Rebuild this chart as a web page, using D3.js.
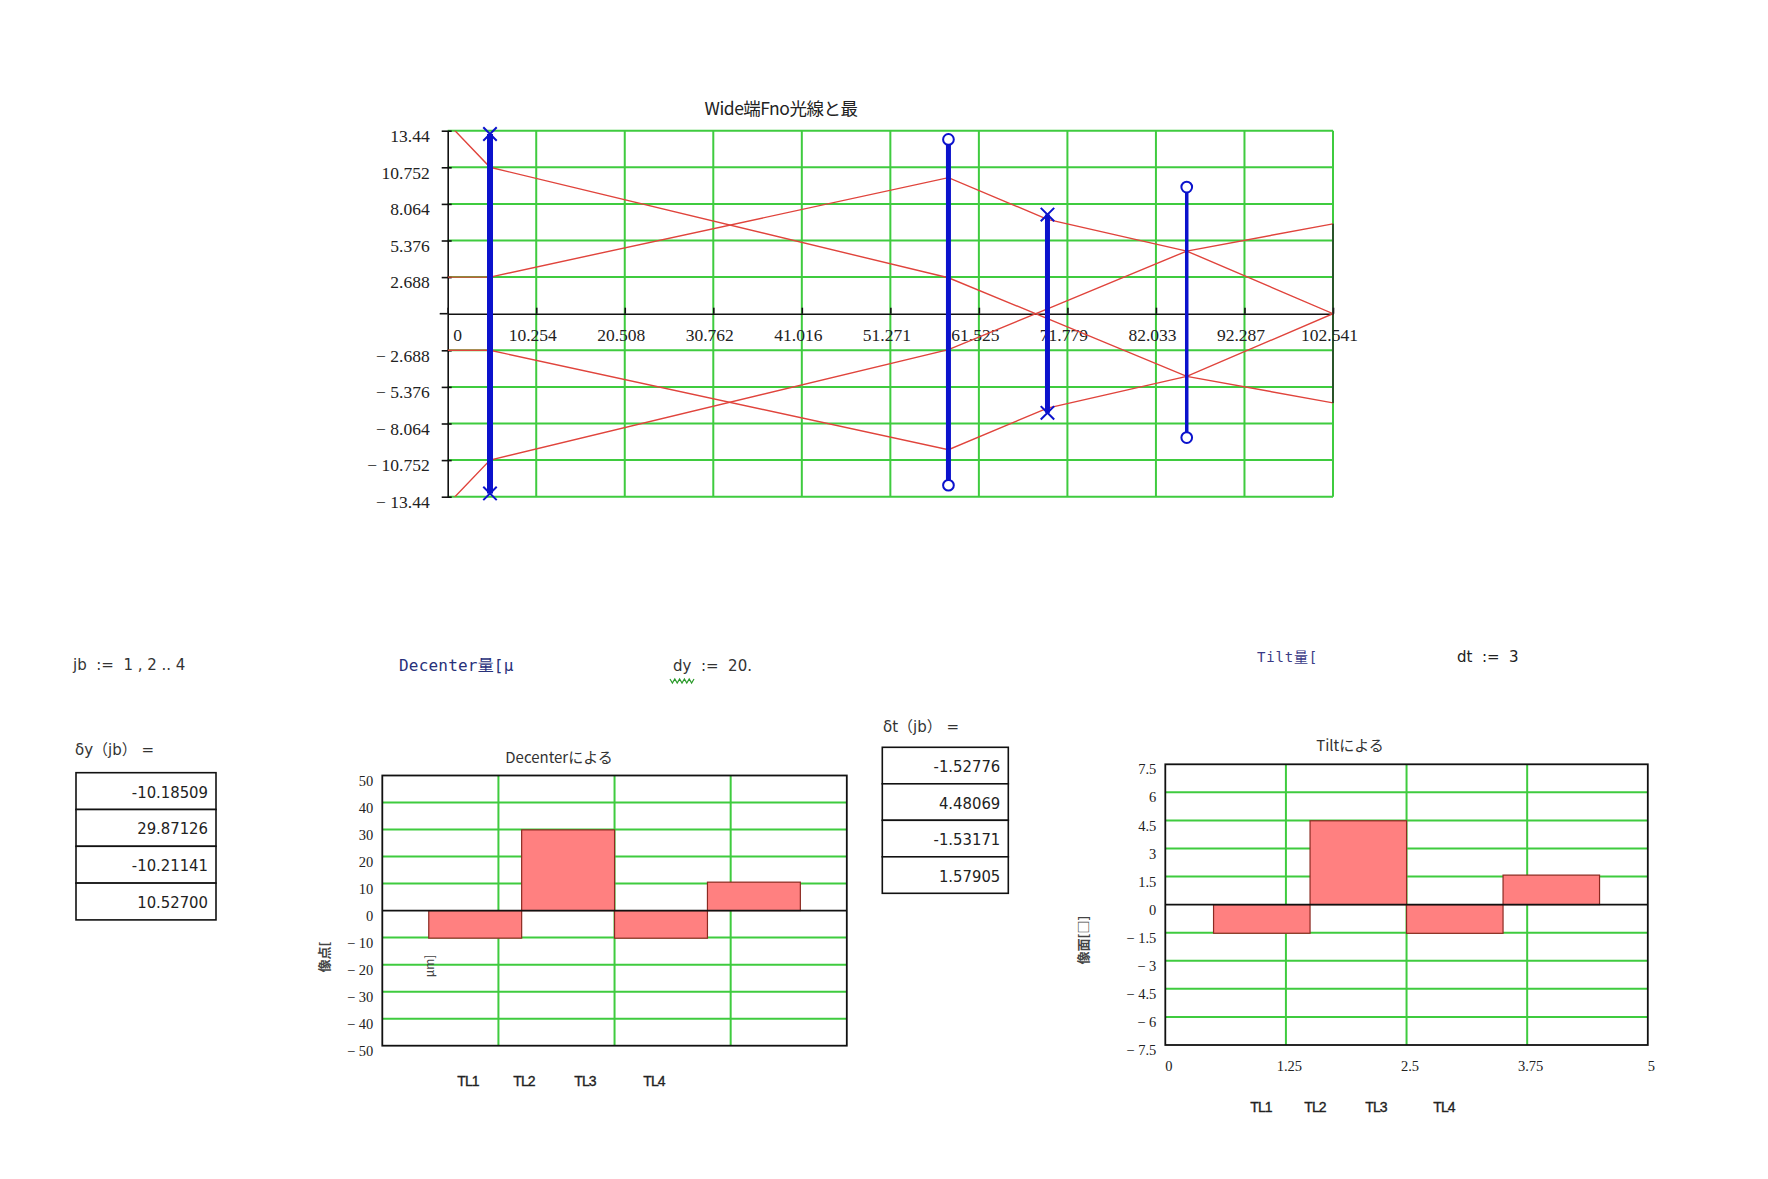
<!DOCTYPE html>
<html lang="ja">
<head>
<meta charset="UTF-8">
<title>Wide端Fno光線と最</title>
<script src="https://cdn.jsdelivr.net/npm/d3@7"></script>
<style>
    body{ margin:0; background:#fff; }
    .serif{ font-family:"Liberation Serif","DejaVu Serif",serif; }
    .sans{ font-family:"DejaVu Sans","Noto Sans CJK JP",sans-serif; }
    .arial{ font-family:"Liberation Sans","DejaVu Sans",sans-serif; }
    .mono{ font-family:"DejaVu Sans Mono","Noto Sans CJK JP",monospace; }
    .cond{ font-family:"DejaVu Sans Condensed","DejaVu Sans",sans-serif; font-stretch:condensed; }
    .cjk{ font-family:"Noto Sans CJK JP","DejaVu Sans",sans-serif; }
</style>
</head>
<body>
<svg id="sheet" width="1768" height="1179"></svg>

<script>
    // ---------- data read off the worksheet ----------
    // ray trace (top plot): z of every surface, ray heights at those z
    let zPos = [0, 4.9, 58, 69.47, 85.6, 102.541]
    let rayA = [14.0, 10.752, 2.64, -0.36, -4.6, -6.55]
    let rayB = [2.688, 2.688, 9.99, 6.93, 4.6, 0]
    let rayA2 = [-14.0, -10.752, -2.64, 0.36, 4.6, 6.6]
    let rayB2 = [-2.688, -2.688, -9.99, -6.93, -4.6, 0]
    // lens groups
    let lensZ = [4.9, 58, 69.47, 85.6]
    let lensTop = [13.2, 12.8, 7.28, 9.3]
    let lensBottom = [-13.2, -12.6, -7.28, -9.1]
    let lensMark = ["x", "o", "x", "o"]
    // ticks of the top plot
    let zTicks = [0, 10.2541, 20.5082, 30.7623, 41.0164, 51.2705, 61.5246, 71.7787, 82.0328, 92.2869, 102.541]
    let zTickLabels = ["0", "10.254", "20.508", "30.762", "41.016", "51.271", "61.525", "71.779", "82.033", "92.287", "102.541"]
    let hTicks = [13.44, 10.752, 8.064, 5.376, 2.688, -2.688, -5.376, -8.064, -10.752, -13.44]
    let hTickLabels = ["13.44", "10.752", "8.064", "5.376", "2.688", "−  2.688", "−  5.376", "−  8.064", "−  10.752", "−  13.44"]

    // decenter / tilt (bottom)
    let jb = [1, 2, 3, 4]
    let units = ["TL1", "TL2", "TL3", "TL4"]
    let deltaY = [-10.18509, 29.87126, -10.21141, 10.52700]
    let deltaT = [-1.52776, 4.48069, -1.53171, 1.57905]
    let dyTicks = [50, 40, 30, 20, 10, 0, -10, -20, -30, -40, -50]
    let dtTicks = [7.5, 6, 4.5, 3, 1.5, 0, -1.5, -3, -4.5, -6, -7.5]
    let barXTicks = [0, 1.25, 2.5, 3.75, 5]

    // ---------- styles / layout ----------
    let green = "#3fcb3f"
    let rayRed = "#e0443c"
    let blue = "#0b12cc"
    let barFill = "#ff8080"
    let barEdge = "#8c2a22"
    let lensStroke = [6, 5, 5, 3.5]
    let tlXDec = [468, 524, 585, 654]
    let tlXTilt = [1261, 1315, 1376, 1444]

    let svg = d3.select("#sheet")

    function minusFmt(v){
        return v < 0 ? "−  " + Math.abs(v) : String(v)
    }

    // ================= top plot: rays =================
    let x1 = d3.scaleLinear().domain([0, 102.541]).range([447.7, 1333])
    let y1 = d3.scaleLinear().domain([-13.44, 13.44]).range([496.7, 130.7])
    let topG = svg.append("g")

    topG.append("text")
        .attr("class", "cjk")
        .attr("x", 781).attr("y", 107)
        .attr("text-anchor", "middle").attr("dominant-baseline", "central")
        .attr("font-size", 17.5).attr("fill", "#222").attr("letter-spacing", -0.5)
        .text("Wide端Fno光線と最")

    // grid
    topG.selectAll(".hg").data(hTicks).join("line")
        .attr("x1", x1(0)).attr("x2", x1(102.541))
        .attr("y1", d => y1(d)).attr("y2", d => y1(d))
        .attr("stroke", green).attr("stroke-width", 2)
    topG.selectAll(".vg").data(zTicks.slice(1)).join("line")
        .attr("x1", d => x1(d)).attr("x2", d => x1(d))
        .attr("y1", y1(13.44)).attr("y2", y1(-13.44))
        .attr("stroke", green).attr("stroke-width", 2)

    // x axis along y = 0, ticks pointing up
    let gx = topG.append("g")
        .attr("transform", `translate(0,${y1(0)})`)
        .call(d3.axisBottom(x1).tickValues(zTicks).tickFormat((d, i) => zTickLabels[i])
            .tickSizeInner(-6).tickSizeOuter(0).tickPadding(15))
    gx.attr("font-family", "'Liberation Serif','DejaVu Serif',serif").attr("font-size", 17.5)
    gx.select(".domain").attr("stroke", "#111").attr("stroke-width", 1.6)
    gx.selectAll(".tick line").attr("stroke", "#111").attr("stroke-width", 1.6)
    gx.selectAll(".tick text").attr("fill", "#222").attr("dx", -4)
    gx.selectAll(".tick text").filter(d => d === 0).attr("text-anchor", "start").attr("dx", 5)
    topG.append("line")
        .attr("x1", x1(0) - 8).attr("x2", x1(0))
        .attr("y1", y1(0)).attr("y2", y1(0))
        .attr("stroke", "#111").attr("stroke-width", 1.6)

    // y axis
    let gy = topG.append("g")
        .attr("transform", `translate(${x1(0)},0)`)
        .call(d3.axisLeft(y1).tickValues(hTicks).tickFormat((d, i) => hTickLabels[i])
            .tickSizeInner(6).tickSizeOuter(0).tickPadding(12))
    gy.attr("font-family", "'Liberation Serif','DejaVu Serif',serif").attr("font-size", 17.5)
    gy.select(".domain").attr("stroke", "#111").attr("stroke-width", 1.6)
    gy.selectAll(".tick line").attr("x1", 4).attr("stroke", "#111").attr("stroke-width", 1.6)
    gy.selectAll(".tick text").attr("fill", "#222").attr("dy", "0.62em")

    // rays, clipped to the frame
    svg.append("clipPath").attr("id", "topclip")
        .append("rect")
        .attr("x", x1(0)).attr("y", y1(13.44))
        .attr("width", x1(102.541) - x1(0)).attr("height", y1(-13.44) - y1(13.44))
    let rayLine = d3.line().x((d, i) => x1(zPos[i])).y(d => y1(d))
    topG.append("g").attr("clip-path", "url(#topclip)")
        .selectAll("path").data([rayA, rayB, rayA2, rayB2]).join("path")
        .attr("d", rayLine)
        .attr("fill", "none").attr("stroke", rayRed).attr("stroke-width", 1.4)

    // image plane
    topG.append("line")
        .attr("x1", x1(zPos[5])).attr("x2", x1(zPos[5]))
        .attr("y1", y1(rayA2[5])).attr("y2", y1(rayA[5]))
        .attr("stroke", "#222").attr("stroke-width", 1.4)

    // lens groups
    topG.selectAll(".lens").data(lensZ).join("line")
        .attr("x1", d => x1(d)).attr("x2", d => x1(d))
        .attr("y1", (d, i) => y1(lensTop[i])).attr("y2", (d, i) => y1(lensBottom[i]))
        .attr("stroke", blue).attr("stroke-width", (d, i) => lensStroke[i])

    let ends = []
    lensZ.forEach((z, i) => {
        ends.push({z: z, h: lensTop[i], m: lensMark[i]})
        ends.push({z: z, h: lensBottom[i], m: lensMark[i]})
    })
    topG.selectAll(".mk").data(ends).join("path")
        .attr("transform", d => `translate(${x1(d.z)},${y1(d.h)})`)
        .attr("d", d => d.m === "x" ? d3.symbol(d3.symbolX, 120)() : d3.symbol(d3.symbolCircle, 90)())
        .attr("fill", d => d.m === "x" ? "none" : "#fff")
        .attr("stroke", blue).attr("stroke-width", 2)

    // ================= worksheet text =================
    let txt = svg.append("g")
    txt.append("text").attr("class", "sans").attr("x", 73).attr("y", 665)
        .attr("dominant-baseline", "central").attr("font-size", 15).attr("fill", "#333")
        .attr("xml:space", "preserve")
        .text("jb  :=  1 , 2 .. 4")
    txt.append("text").attr("class", "sans").attr("x", 75).attr("y", 750)
        .attr("dominant-baseline", "central").attr("font-size", 15).attr("fill", "#333")
        .text("δy（jb） =")
    txt.append("text").attr("class", "sans").attr("x", 883).attr("y", 727)
        .attr("dominant-baseline", "central").attr("font-size", 15).attr("fill", "#333")
        .text("δt（jb） =")
    txt.append("text").attr("class", "mono").attr("x", 399).attr("y", 665)
        .attr("dominant-baseline", "central").attr("font-size", 16).attr("fill", "#27307a")
        .attr("letter-spacing", 0.2)
        .text("Decenter量[μ")
    txt.append("text").attr("class", "mono").attr("x", 1257).attr("y", 657)
        .attr("dominant-baseline", "central").attr("font-size", 14).attr("fill", "#3a3a86")
        .attr("letter-spacing", 0.8)
        .text("Tilt量[")
    txt.append("text").attr("class", "sans").attr("x", 673).attr("y", 666)
        .attr("dominant-baseline", "central").attr("font-size", 15).attr("fill", "#333")
        .attr("xml:space", "preserve")
        .text("dy  :=  20.")
    // wavy underline under dy
    let wave = "M670,679"
    for (let k = 0; k < 10; k++) wave += ` l2.4,${k % 2 ? -4 : 4}`
    txt.append("path").attr("d", wave).attr("fill", "none").attr("stroke", "#2a9a2a").attr("stroke-width", 1.2)
    txt.append("text").attr("class", "sans").attr("x", 1457).attr("y", 657)
        .attr("dominant-baseline", "central").attr("font-size", 15).attr("fill", "#222")
        .attr("xml:space", "preserve")
        .text("dt  :=  3")

    // result tables
    function valueTable(vals, x0, x1r, yTop, rowH){
        let g = svg.append("g")
        g.selectAll("rect").data(vals).join("rect")
            .attr("x", x0).attr("y", (d, i) => yTop + i * rowH)
            .attr("width", x1r - x0).attr("height", rowH)
            .attr("fill", "#fff").attr("stroke", "#111").attr("stroke-width", 1.6)
        g.selectAll("text").data(vals).join("text")
            .attr("class", "cond")
            .attr("x", x1r - 8).attr("y", (d, i) => yTop + (i + 0.5) * rowH + 1)
            .attr("text-anchor", "end").attr("dominant-baseline", "central")
            .attr("font-size", 16.5).attr("fill", "#222")
            .text(d => d.toFixed(5))
    }
    valueTable(deltaY, 76, 216, 772.7, 36.8)
    valueTable(deltaT, 882.3, 1008.3, 747.3, 36.5)

    // ================= bar charts =================
    function barChart(opt){
        let x = d3.scaleLinear().domain([0, 5]).range(opt.xr)
        let y = d3.scaleLinear().domain([-opt.ymax, opt.ymax]).range(opt.yr)
        let g = svg.append("g")

        g.append("text").attr("class", "cjk")
            .attr("x", opt.titleX).attr("y", opt.titleY)
            .attr("text-anchor", "middle").attr("dominant-baseline", "central")
            .attr("font-size", 15).attr("fill", "#333")
            .text(opt.title)

        // grid
        g.selectAll(".hg").data(opt.ticks.filter(d => Math.abs(d) !== opt.ymax && d !== 0)).join("line")
            .attr("x1", x(0)).attr("x2", x(5))
            .attr("y1", d => y(d)).attr("y2", d => y(d))
            .attr("stroke", green).attr("stroke-width", 2)
        g.selectAll(".vg").data(barXTicks.slice(1, -1)).join("line")
            .attr("x1", d => x(d)).attr("x2", d => x(d))
            .attr("y1", y(opt.ymax)).attr("y2", y(-opt.ymax))
            .attr("stroke", green).attr("stroke-width", 2)

        // bars
        g.selectAll(".bar").data(opt.vals).join("rect")
            .attr("x", (d, i) => x(jb[i] - 0.5))
            .attr("width", x(1) - x(0))
            .attr("y", d => y(Math.max(0, d)))
            .attr("height", d => Math.abs(y(d) - y(0)))
            .attr("fill", barFill).attr("stroke", barEdge).attr("stroke-width", 1.2)

        // zero line and frame
        g.append("line").attr("x1", x(0)).attr("x2", x(5))
            .attr("y1", y(0)).attr("y2", y(0))
            .attr("stroke", "#111").attr("stroke-width", 1.6)
        g.append("rect").attr("x", x(0)).attr("y", y(opt.ymax))
            .attr("width", x(5) - x(0)).attr("height", y(-opt.ymax) - y(opt.ymax))
            .attr("fill", "none").attr("stroke", "#111").attr("stroke-width", 1.8)

        // y labels
        let ga = g.append("g").attr("transform", `translate(${x(0)},0)`)
            .call(d3.axisLeft(y).tickValues(opt.ticks).tickFormat(minusFmt).tickSize(0).tickPadding(9))
        ga.attr("font-family", "'Liberation Serif','DejaVu Serif',serif").attr("font-size", 14.5)
        ga.select(".domain").remove()
        ga.selectAll(".tick text").attr("fill", "#222").attr("dy", "0.66em")

        if (opt.xLabels){
            let gb = g.append("g").attr("transform", `translate(0,${y(-opt.ymax)})`)
                .call(d3.axisBottom(x).tickValues(barXTicks).tickFormat(d => String(d)).tickSize(0).tickPadding(16))
            gb.attr("font-family", "'Liberation Serif','DejaVu Serif',serif").attr("font-size", 14.5)
            gb.select(".domain").remove()
            gb.selectAll(".tick text").attr("fill", "#222").attr("dx", 3)
        }

        // unit labels under the chart
        g.selectAll(".tl").data(units).join("text")
            .attr("class", "arial")
            .attr("x", (d, i) => opt.tlX[i]).attr("y", opt.tlY)
            .attr("text-anchor", "middle").attr("dominant-baseline", "central")
            .attr("font-size", 14).attr("fill", "#222")
            .attr("stroke", "#222").attr("stroke-width", 0.35)
            .attr("letter-spacing", -0.8)
            .text(d => d)

        // rotated axis title
        g.append("text").attr("class", "cjk")
            .attr("transform", `translate(${opt.yLabX},${opt.yLabY}) rotate(-90)`)
            .attr("text-anchor", "middle").attr("dominant-baseline", "central")
            .attr("font-size", 13).attr("font-weight", "bold").attr("fill", "#444")
            .text(opt.yLabel)
        return g
    }

    let dec = barChart({
        title: "Decenterによる", titleX: 559, titleY: 756,
        xr: [382.3, 846.8], yr: [1045.7, 775.5], ymax: 50,
        ticks: dyTicks, vals: deltaY, xLabels: false,
        tlX: tlXDec, tlY: 1081,
        yLabel: "像点[", yLabX: 323, yLabY: 957
    })
    dec.append("text").attr("class", "cjk")
        .attr("transform", "translate(428,966) rotate(-90)")
        .attr("text-anchor", "middle").attr("dominant-baseline", "central")
        .attr("font-size", 12).attr("fill", "#444")
        .text("μm]")

    barChart({
        title: "Tiltによる", titleX: 1350, titleY: 744,
        xr: [1165.3, 1647.8], yr: [1045, 764.3], ymax: 7.5,
        ticks: dtTicks, vals: deltaT, xLabels: true,
        tlX: tlXTilt, tlY: 1107,
        yLabel: "像面[□]", yLabX: 1082, yLabY: 940
    })
</script>
</body>
</html>
